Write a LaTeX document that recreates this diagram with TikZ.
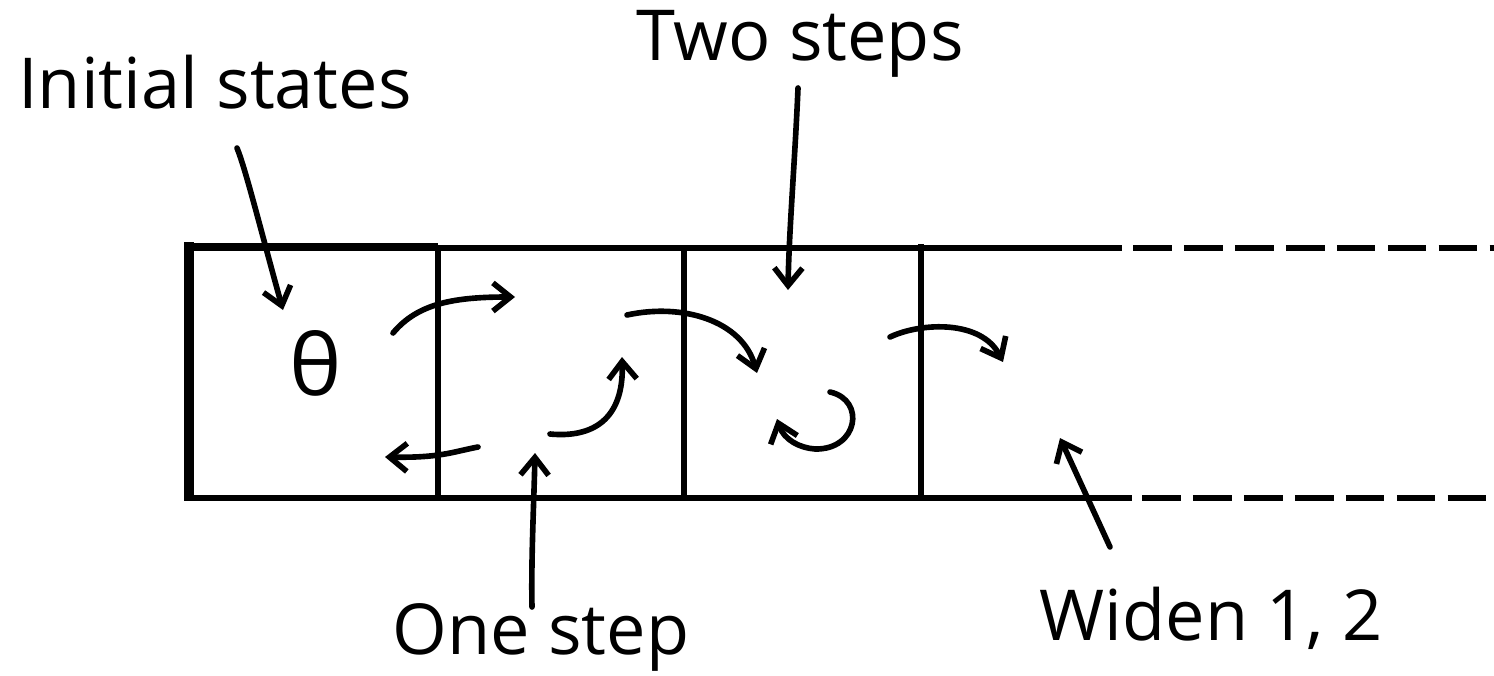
\documentclass[tikz,border=0pt]{standalone}
\usepackage{fontspec}
\setmainfont{Open Sans}
\usetikzlibrary{arrows.meta}

\tikzset{
    txt/.style={font=\fontsize{40}{46}\selectfont, inner sep=0pt, anchor=base},
    wall/.style={line width=3.4pt},
    pen/.style={line width=3.2pt, line cap=round, line join=round,
        -{Straight Barb[length=10pt,width=16pt]}},
    gap/.style={line width=3.4pt, dash pattern=on 22pt off 7pt}
}

\begin{document}
\begin{tikzpicture}[x=0.02cm,y=-0.02cm]
    \useasboundingbox (0,0) rectangle (1494,676);
    % Draw the strip of cells
    \draw[wall] (187,248) -- (1122,248);
    \draw[wall] (187,498) -- (1132,498);
    \draw[line width=4.6pt] (438,247) -- (189,247);
    \draw[line width=5.4pt] (189,242) -- (189,501);
    \draw[wall] (438,248) -- (438,498);
    \draw[wall] (684,248) -- (684,498);
    \draw[wall] (921,244) -- (921,498);
    % Draw the open end
    \draw[gap] (1133,248) -- (1494,248);
    \draw[gap] (1142,498) -- (1494,498);
    % Draw the start value
    \node[font=\fontsize{48}{50}\selectfont, inner sep=0pt, xscale=1.05] (theta) at (316,363) {θ};
    % Draw the steps inside the cells
    \draw[pen] (393,333) .. controls (418,303) and (455,297) .. (515,297);
    \draw[pen] (478,447) .. controls (452,452) and (440,458) .. (385,457);
    \draw[pen] (550,434) .. controls (592,438) and (624,420) .. (622,357);
    \draw[pen] (627,315) .. controls (682,303) and (742,320) .. (757,373);
    \draw[pen] (830,392) .. controls (866,400) and (858,450) .. (815,449)
        .. controls (800,448) and (784,440) .. (777,419);
    \draw[pen] (890,337) .. controls (922,322) and (982,320) .. (1003,362);
    % Label the cells
    \node[txt] (init) at (215,108) {Initial states};
    \node[txt] (two) at (800,60) {Two steps};
    \node[txt] (one) at (541,654) {One step};
    \node[txt] (widen) at (1211,640) {Widen 1, 2};
    \coordinate (init-s) at (237,148);
    \coordinate (init-e) at (283,310);
    \coordinate (two-s) at (798,88);
    \coordinate (two-e) at (788,290);
    \coordinate (one-s) at (532,607);
    \coordinate (one-e) at (535,453);
    \coordinate (widen-s) at (1110,547);
    \coordinate (widen-e) at (1060,438);
    % Point from the labels
    \draw[pen] (init-s) .. controls (246,170) and (262,235) .. (init-e);
    \draw[pen] (two-s) .. controls (795,160) and (789,230) .. (two-e);
    \draw[pen] (one-s) .. controls (531,560) and (534,500) .. (one-e);
    \draw[pen] (widen-s) -- (widen-e);
\end{tikzpicture}
\end{document}
